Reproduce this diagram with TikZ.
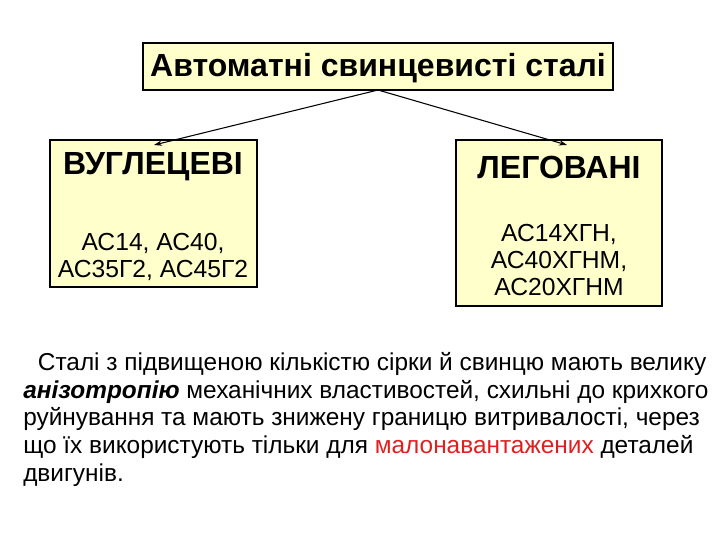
\documentclass[tikz,border=0pt]{standalone}
\usepackage{fontspec}
\setmainfont{Liberation Sans}
\usetikzlibrary{arrows.meta}
\definecolor{boxfill}{HTML}{FFFFCC}
\definecolor{redtxt}{HTML}{E02020}
\begin{document}
\begin{tikzpicture}[x=0.75pt,y=-0.75pt,
  box/.style={draw=black,fill=boxfill,line width=0.8pt},
  arr/.style={-{Stealth[length=6pt,width=4pt]},line width=0.8pt}]
\useasboundingbox (0,0) rectangle (720,540);
\fill[white] (0,0) rectangle (720,540);
\draw[box] (143,43) rectangle (613,90);
\node[font=\bfseries\fontsize{24}{28}\selectfont] (title) at (378,68) {Автоматні свинцевисті сталі};
\draw[box] (50,140) rectangle (257,287);
\node[font=\bfseries\fontsize{24}{28}\selectfont] (l) at (153,167) {ВУГЛЕЦЕВІ};
\node[font=\fontsize{18.5}{20.5}\selectfont,align=center] (lt) at (153,257) {АС14, АС40,\\АС35Г2, АС45Г2};
\draw[box] (456,140) rectangle (662,306);
\node[font=\bfseries\fontsize{24}{28}\selectfont] (r) at (559,167) {ЛЕГОВАНІ};
\node[font=\fontsize{18.5}{20.5}\selectfont,align=center] (rt) at (559,260) {АС14ХГН,\\АС40ХГНМ,\\АС20ХГНМ};
\coordinate (s) at (378,90);
\coordinate (le) at (154,145);
\coordinate (re) at (567,145);
\draw[arr] (s) -- (le);
\draw[arr] (s) -- (re);
\node[anchor=north west,align=left,inner sep=0pt,font=\fontsize{18.3}{20.8}\selectfont] (p) at (23,352)
{\hspace*{11pt}Сталі з підвищеною кількістю сірки й свинцю мають велику\\
\textbf{\textit{анізотропію}} механічних властивостей, схильні до крихкого\\
руйнування та мають знижену границю витривалості, через\\
що їх використують тільки для \textcolor{redtxt}{малонавантажених} деталей\\
двигунів.};
\end{tikzpicture}
\end{document}
